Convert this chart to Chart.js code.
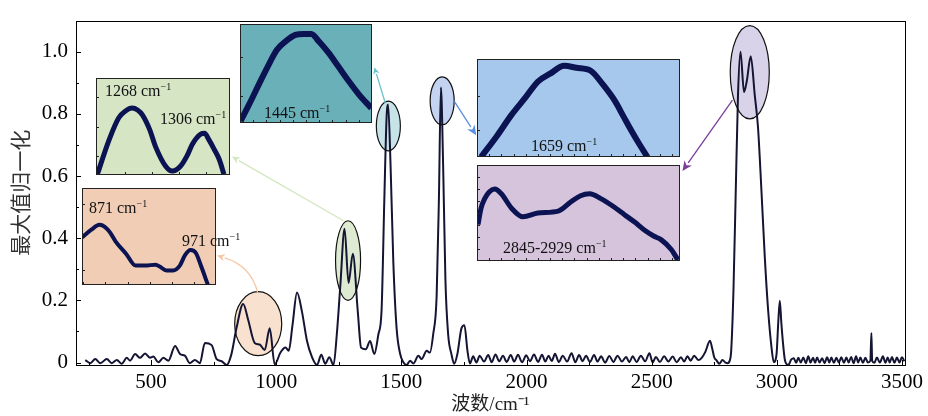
<!DOCTYPE html>
<html lang="zh">
<head>
<meta charset="UTF-8">
<title>拉曼光谱 最大值归一化</title>
<script src="https://cdn.jsdelivr.net/npm/chart.js"></script>
<style>
    body { margin: 0; background: #fff; }
    #wrap { position: relative; width: 928px; height: 416px; }
    #main { position: absolute; left: 0; top: 0; }
    .inset { position: absolute; overflow: visible; }
    .inset canvas { position: absolute; left: 0; top: 0; }
    .lbl { position: absolute; font: 16px "Liberation Serif", serif; line-height: 16px; white-space: nowrap; color: #111; }
    .lbl sup { font-size: 10px; vertical-align: 0; position: relative; top: -6px; }
</style>
</head>
<body>
<div id="wrap">
    <canvas id="main" width="928" height="416"></canvas>
</div>
<script>
// main spectrum
const wavenumber = [
    237, 257, 277, 297, 323, 343, 363, 383, 403, 416, 436, 456, 476, 496, 509, 529, 549, 569,
    596, 616, 635, 655, 675, 695, 715, 742, 762, 782, 802, 821, 841, 868, 888, 914, 934, 954,
    974, 994, 1017, 1037, 1050, 1065, 1083, 1103, 1123, 1143, 1163, 1180, 1196, 1212, 1229,
    1242, 1256, 1273, 1289, 1306, 1326, 1339, 1358, 1375, 1392, 1408, 1421, 1432, 1441, 1447,
    1457, 1468, 1481, 1495, 1508, 1521, 1535, 1548, 1568, 1581, 1601, 1614, 1627, 1641, 1650,
    1658, 1667, 1676, 1687, 1700, 1711, 1724, 1740, 1752, 1764, 1774,
    1787, 1800, 1813, 1830, 1847, 1861, 1876, 1891, 1906, 1921, 1937, 1951, 1966, 1982, 1999,
    2014, 2030, 2046, 2062, 2075, 2088, 2101, 2114, 2129, 2145, 2162, 2180, 2195, 2210, 2224,
    2238, 2254, 2270, 2284, 2298, 2314, 2331, 2347, 2364, 2381, 2398, 2411, 2424, 2440, 2457,
    2474, 2491, 2504, 2517, 2533, 2550, 2567, 2584, 2600, 2617, 2630, 2643, 2656, 2670, 2686,
    2700, 2715, 2733, 2742, 2750, 2760, 2770, 2783, 2795, 2803, 2812, 2818, 2827, 2836, 2845,
    2855, 2869, 2880, 2896, 2912, 2925, 2939, 2952, 2965, 2979, 2988, 2999, 3006, 3012, 3018,
    3023, 3033, 3046, 3058, 3068, 3077, 3086, 3096, 3106, 3116, 3126, 3135, 3145, 3153, 3161,
    3171, 3181, 3191, 3201, 3210, 3218, 3228, 3238, 3248, 3258, 3268, 3278, 3287, 3297, 3307,
    3317, 3325, 3334, 3344, 3354, 3364, 3374, 3378, 3381, 3390, 3400, 3412, 3424, 3434, 3443,
    3451, 3460, 3470, 3480, 3490, 3500, 3510
];
const intensity = [
    0.008, -0.002, 0.011, -0.002, 0.011, -0.002, 0.008, -0.004, 0.015, 0.006, 0.027, 0.015, 0.029, 0.015, 0.019, 0.001, 0.015, 0.006,
    0.053, 0.027, 0.022, -0.002, 0.008, -0.002, 0.063, 0.056, 0.011, 0.004, -0.008, 0.027, 0.110, 0.188, 0.137, 0.063, 0.058, 0.040,
    0.110, -0.006, 0.032, 0.048, 0.038, 0.120, 0.225, 0.163, 0.069, 0.017, -0.008, 0.025, -0.004, 0.017, -0.008,
    0.090, 0.246, 0.430, 0.256, 0.350, 0.163, 0.048, 0.043, 0.069, 0.027, 0.090, 0.170, 0.527, 0.790, 0.830,
    0.630, 0.320, 0.110, 0.028, 0.001, -0.008, 0.006, -0.003, 0.022, 0.011, 0.038, 0.032, 0.090, 0.215, 0.527,
    0.885, 0.630, 0.267, 0.090, 0.027, -0.004, 0.028, 0.110, 0.120, 0.038, -0.003,
    0.020, 0.000, 0.022, 0.003, 0.024, 0.001, 0.026, 0.004, 0.022, 0.002, 0.024, 0.003, 0.025, 0.001, 0.023,
    0.004, 0.026, 0.002, 0.025, 0.003, 0.022, 0.005, 0.028, 0.002, 0.022, 0.003, 0.030, 0.001, 0.024, 0.004,
    0.022, 0.002, 0.024, 0.003, 0.020, 0.000, 0.021, 0.002, 0.022, 0.003, 0.018, 0.001, 0.020, 0.002, 0.022,
    0.004, 0.030, 0.000, 0.018, 0.002, 0.020, 0.003, 0.019, 0.001, 0.017, 0.003, 0.020, 0.006, 0.022, 0.008,
    0.015, 0.035, 0.070, 0.045, 0.017, 0.006, -0.004, 0.008, 0.000, -0.002, 0.006, 0.040, 0.235, 0.550, 0.860,
    1.000, 0.870, 0.905, 0.985, 0.860, 0.756, 0.548, 0.340, 0.173, 0.048, 0.001, 0.027, 0.131, 0.199, 0.130,
    0.079, 0.006, -0.008, 0.010, 0.014, -0.001, 0.015, 0.000, 0.016, -0.002, 0.020, 0.000, 0.015, -0.001, 0.016,
    0.000, 0.014, -0.002, 0.017, 0.000, 0.016, -0.001, 0.015, 0.000, 0.017, -0.001, 0.016, 0.000, 0.018, -0.002,
    0.020, 0.000, 0.016, -0.001, 0.015, 0.000, 0.006, 0.095, 0.006, -0.001, 0.016, 0.000, 0.020, -0.001, 0.016,
    0.000, 0.018, -0.001, 0.016, 0.000, 0.017, 0.004
];

const xTicks = [500, 1000, 1500, 2000, 2500, 3000, 3500];
const xMinor = [250, 750, 1250, 1750, 2250, 2750, 3250];
const yTicks = [0, 0.2, 0.4, 0.6, 0.8, 1.0];
const yMinor = [0.1, 0.3, 0.5, 0.7, 0.9];

// zoomed insets, curves in inset units (0-100 both ways)
const ins871X = [0, 7, 13, 17, 21, 25, 33, 40, 47, 55, 58, 63, 68, 73, 77, 81, 85, 89, 94];
const ins871Y = [49, 57, 62, 60, 54, 45, 32, 20, 20, 21, 19, 15, 15, 20, 31, 36, 33, 19, 0];
const ins1268X = [1, 9.7, 17, 22, 27, 31, 34.6, 40, 44.5, 52, 57, 63, 68, 72, 78, 81, 84, 88, 92, 95.5];
const ins1268Y = [0.7, 36, 59, 66, 69, 67, 62, 47, 29, 9, 4, 9, 20, 32, 42, 43, 37, 27, 16, 0.7];
const ins1445X = [0.5, 7, 14.3, 21, 28, 35, 42, 48, 54, 60, 67, 74, 82, 90, 99.5];
const ins1445Y = [2, 19, 39, 57, 74, 83, 89, 90, 90, 82, 71, 58, 43, 29, 15];
const ins1659X = [2, 10, 17, 24, 30, 36, 43, 49, 56, 62, 68, 72, 76, 80, 84];
const ins1659Y = [0, 22, 43, 61, 77, 85, 93, 91, 88, 74, 57, 42, 27, 13, 0];
const ins2845X = [0.5, 2, 3.8, 6, 8.7, 12, 17, 22.7, 30, 40, 46.5, 51, 55.5, 61, 67, 72.8, 78, 82.6, 87, 90.8, 95.7, 99];
const ins2845Y = [38, 55, 65, 72, 75, 70, 55, 46, 50, 52, 62, 68, 70, 65, 57, 48, 40, 32, 26, 22, 12, 1];

const serif = "'Liberation Serif', 'Times New Roman', serif";

// highlighted peaks + arrows to their inset (data coords)
const marks = [
    { cx: 928, cy: 0.125, rx: 94, ry: 0.103, fill: '#f8e1cf',
      arrow: { from: [926, 0.225], ctrl: [898, 0.3125], to: [763, 0.344], color: '#f5c6a4', head: 8 } },
    { cx: 1287, cy: 0.328, rx: 50, ry: 0.128, fill: '#dfead2',
      arrow: { from: [1269, 0.456], to: [823, 0.6625], color: '#d3e7bf', head: 8 } },
    { cx: 1448, cy: 0.761, rx: 48, ry: 0.080, fill: '#c6e4e8',
      arrow: { from: [1436, 0.834], to: [1392, 0.95], color: '#6cc0cc', head: 7 } },
    { cx: 1663, cy: 0.842, rx: 48, ry: 0.077, fill: '#c3d3f1',
      arrow: { from: [1711, 0.841], to: [1799, 0.731], color: '#5b8fe0', head: 10 } },
    { cx: 2892, cy: 0.934, rx: 78, ry: 0.150, fill: '#d9d3e9',
      arrow: { from: [2823, 0.844], to: [2623, 0.616], color: '#7b3d99', head: 10 } }
];

const insets = [
    { x0: 225, x1: 759, y0: 0.25, y1: 0.5625, bg: '#f0cdb4', xs: ins871X, ys: ins871Y, lw: 4,
      tx: [1, 17.5, 34, 50.5, 67, 83.5], ty: [15, 49, 83],
      labels: [{ t: '871', l: 7, b: 25 }, { t: '971', l: 100, b: 58 }] },
    { x0: 281, x1: 815, y0: 0.603, y1: 0.916, bg: '#d6e5c4', xs: ins1268X, ys: ins1268Y, lw: 5,
      tx: [2, 22, 42, 62, 82], ty: [20, 50, 80],
      labels: [{ t: '1268', l: 9, b: 18 }, { t: '1306', l: 64, b: 46 }] },
    { x0: 855, x1: 1384, y0: 0.772, y1: 1.0875, bg: '#69b0b9', xs: ins1445X, ys: ins1445Y, lw: 6,
      tx: [10, 20, 30, 40, 50, 60, 70, 80, 90], ty: [27, 67],
      labels: [{ t: '1445', l: 24, b: 94 }] },
    { x0: 1803, x1: 2612, y0: 0.6625, y1: 0.975, bg: '#a5c8ec', xs: ins1659X, ys: ins1659Y, lw: 6,
      tx: [6, 12, 18, 24, 30, 36, 42, 48, 54, 60, 66, 72, 78, 84, 90, 96], ty: [28, 62],
      labels: [{ t: '1659', l: 54, b: 92 }] },
    { x0: 1803, x1: 2612, y0: 0.325, y1: 0.634, bg: '#d6c3dc', xs: ins2845X, ys: ins2845Y, lw: 5,
      tx: [6, 12, 18, 24, 30, 36, 42, 48, 54, 60, 66, 72, 78, 84, 90, 96], ty: [13, 25.5, 38, 50, 62.5, 75, 87.5],
      labels: [{ t: '2845-2929', l: 26, b: 88 }] }
];

function drawArrow(ctx, x, y, a) {
    const p0 = [x.getPixelForValue(a.from[0]), y.getPixelForValue(a.from[1])];
    const p1 = [x.getPixelForValue(a.to[0]), y.getPixelForValue(a.to[1])];
    const c = a.ctrl ? [x.getPixelForValue(a.ctrl[0]), y.getPixelForValue(a.ctrl[1])] : null;
    // direction at the tip
    const d = c ? [p1[0] - c[0], p1[1] - c[1]] : [p1[0] - p0[0], p1[1] - p0[1]];
    const len = Math.hypot(d[0], d[1]);
    const ux = d[0] / len, uy = d[1] / len;
    const h = a.head;
    const base = [p1[0] - ux * h, p1[1] - uy * h];
    ctx.save();
    ctx.strokeStyle = a.color;
    ctx.fillStyle = a.color;
    ctx.lineWidth = 1.3;
    ctx.beginPath();
    ctx.moveTo(p0[0], p0[1]);
    if (c) ctx.quadraticCurveTo(c[0], c[1], base[0], base[1]);
    else ctx.lineTo(base[0], base[1]);
    ctx.stroke();
    ctx.beginPath();
    ctx.moveTo(p1[0], p1[1]);
    ctx.lineTo(base[0] - uy * h * 0.45, base[1] + ux * h * 0.45);
    ctx.lineTo(p1[0] - ux * h * 0.7, p1[1] - uy * h * 0.7);
    ctx.lineTo(base[0] + uy * h * 0.45, base[1] - ux * h * 0.45);
    ctx.closePath();
    ctx.fill();
    ctx.restore();
}

const decor = {
    id: 'decor',
    beforeDatasetsDraw(chart) {
        const { ctx, scales: { x, y } } = chart;
        marks.forEach(m => {
            const px = x.getPixelForValue(m.cx), py = y.getPixelForValue(m.cy);
            const rx = Math.abs(x.getPixelForValue(m.cx + m.rx) - px);
            const ry = Math.abs(y.getPixelForValue(m.cy + m.ry) - py);
            ctx.save();
            ctx.beginPath();
            ctx.ellipse(px, py, rx, ry, 0, 0, Math.PI * 2);
            ctx.fillStyle = m.fill;
            ctx.fill();
            ctx.restore();
        });
    },
    afterDatasetsDraw(chart) {
        const { ctx, scales: { x, y } } = chart;
        marks.forEach(m => {
            const px = x.getPixelForValue(m.cx), py = y.getPixelForValue(m.cy);
            const rx = Math.abs(x.getPixelForValue(m.cx + m.rx) - px);
            const ry = Math.abs(y.getPixelForValue(m.cy + m.ry) - py);
            ctx.save();
            ctx.beginPath();
            ctx.ellipse(px, py, rx, ry, 0, 0, Math.PI * 2);
            ctx.strokeStyle = '#111';
            ctx.lineWidth = 1.2;
            ctx.stroke();
            ctx.restore();
        });
        marks.forEach(m => drawArrow(ctx, x, y, m.arrow));
    },
    afterDraw(chart) {
        const { ctx, chartArea: a, scales: { x, y } } = chart;
        ctx.save();
        ctx.strokeStyle = '#000';
        ctx.lineWidth = 1;
        ctx.strokeRect(Math.round(a.left) + 0.5, Math.round(a.top) + 0.5,
            Math.round(a.right - a.left), Math.round(a.bottom - a.top));
        ctx.beginPath();
        const tx = (vals, len) => vals.forEach(v => {
            const p = Math.round(x.getPixelForValue(v)) + 0.5;
            ctx.moveTo(p, a.bottom); ctx.lineTo(p, a.bottom - len);
        });
        const ty = (vals, len) => vals.forEach(v => {
            const p = Math.round(y.getPixelForValue(v)) + 0.5;
            ctx.moveTo(a.left, p); ctx.lineTo(a.left + len, p);
        });
        tx(xTicks, 5); tx(xMinor, 3);
        ty(yTicks, 5); ty(yMinor, 3);
        ctx.stroke();
        ctx.restore();
    }
};

const main = new Chart(document.getElementById('main'), {
    type: 'line',
    data: {
        datasets: [{
            data: wavenumber.map((w, i) => ({ x: w, y: intensity[i] })),
            borderColor: '#141433',
            borderWidth: 2,
            pointRadius: 0,
            cubicInterpolationMode: 'monotone',
            fill: false
        }]
    },
    options: {
        responsive: false,
        animation: false,
        events: [],
        layout: { padding: { top: 12, right: 20, left: 0, bottom: 0 } },
        plugins: { legend: { display: false }, tooltip: { enabled: false } },
        scales: {
            x: {
                type: 'linear', min: 200, max: 3512,
                afterBuildTicks: s => { s.ticks = xTicks.map(v => ({ value: v })); },
                afterFit: s => { s.height = 51; },
                grid: { display: false, drawTicks: false },
                border: { display: false },
                ticks: { font: { family: serif, size: 21 }, color: '#000', padding: 5, maxRotation: 0,
                         callback: v => String(v) },
                title: { display: true, text: '波数/cm⁻¹', font: { family: serif + ", 'Noto Sans CJK SC'", size: 19 },
                         color: '#222', padding: { top: 0, bottom: 0 } }
            },
            y: {
                min: -0.008, max: 1.1,
                afterBuildTicks: s => { s.ticks = yTicks.map(v => ({ value: v })); },
                afterFit: s => { s.width = 76; },
                grid: { display: false, drawTicks: false },
                border: { display: false },
                ticks: { font: { family: serif, size: 21 }, color: '#000', padding: 8,
                         callback: v => v === 0 ? '0' : v.toFixed(1) },
                title: { display: true, text: '最大值归一化', font: { family: "'Noto Sans CJK SC', sans-serif", size: 21 },
                         color: '#333', padding: { top: 7, bottom: 0 } }
            }
        }
    },
    plugins: [decor]
});

// insets placed in data space of the main chart
const wrap = document.getElementById('wrap');
const sx = main.scales.x, sy = main.scales.y;
insets.forEach(ins => {
    const left = Math.round(sx.getPixelForValue(ins.x0));
    const right = Math.round(sx.getPixelForValue(ins.x1));
    const top = Math.round(sy.getPixelForValue(ins.y1));
    const bottom = Math.round(sy.getPixelForValue(ins.y0));
    const w = right - left, h = bottom - top;
    const div = document.createElement('div');
    div.className = 'inset';
    div.style.left = left + 'px';
    div.style.top = top + 'px';
    div.style.width = w + 'px';
    div.style.height = h + 'px';
    const cv = document.createElement('canvas');
    cv.width = w; cv.height = h;
    cv.style.background = ins.bg;
    div.appendChild(cv);
    wrap.appendChild(div);

    const frame = {
        id: 'insetFrame',
        afterDraw(chart) {
            const { ctx, scales: { x, y } } = chart;
            ctx.save();
            ctx.strokeStyle = '#222';
            ctx.lineWidth = 1;
            ctx.strokeRect(0.5, 0.5, w - 1, h - 1);
            ctx.beginPath();
            ins.tx.forEach(v => {
                const p = Math.round(x.getPixelForValue(v)) + 0.5;
                ctx.moveTo(p, h); ctx.lineTo(p, h - 3);
            });
            ins.ty.forEach(v => {
                const p = Math.round(y.getPixelForValue(v)) + 0.5;
                ctx.moveTo(0, p); ctx.lineTo(3, p);
            });
            ctx.stroke();
            ctx.restore();
        }
    };

    new Chart(cv, {
        type: 'line',
        data: {
            datasets: [{
                data: ins.xs.map((v, i) => ({ x: v, y: ins.ys[i] })),
                borderColor: '#0b1352',
                borderWidth: ins.lw,
                pointRadius: 0,
                cubicInterpolationMode: 'monotone'
            }]
        },
        options: {
            responsive: false,
            animation: false,
            events: [],
            layout: { padding: 0 },
            plugins: { legend: { display: false }, tooltip: { enabled: false } },
            scales: {
                x: { type: 'linear', min: 0, max: 100, display: false },
                y: { min: 0, max: 100, display: false }
            }
        },
        plugins: [frame]
    });

    ins.labels.forEach(lb => {
        const el = document.createElement('div');
        el.className = 'lbl';
        el.style.left = lb.l + 'px';
        el.style.top = (lb.b - 13) + 'px';
        el.innerHTML = lb.t + ' cm<sup>−1</sup>';
        div.appendChild(el);
    });
});
</script>
</body>
</html>
